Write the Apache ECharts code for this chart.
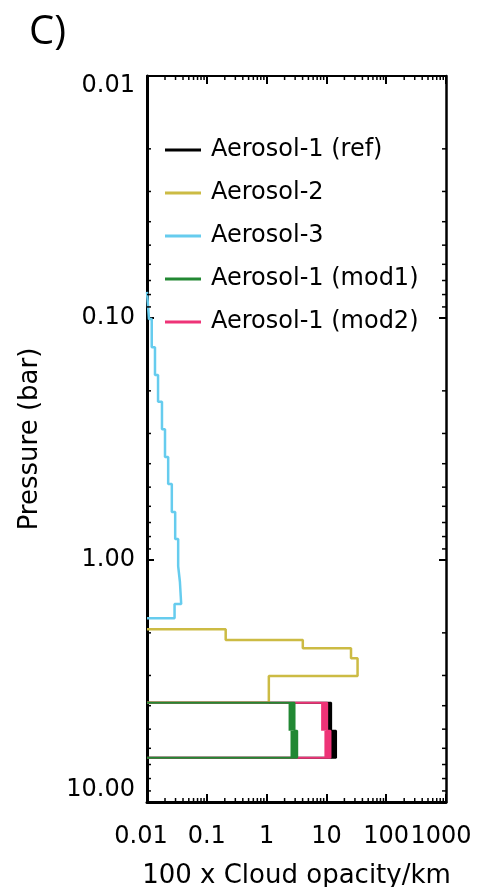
<!DOCTYPE html>
<html><head><meta charset="utf-8">
<script src="https://cdn.jsdelivr.net/npm/echarts@6/dist/echarts.min.js"></script>
<style>html,body{margin:0;padding:0;background:#fff}#c{width:485px;height:887px}</style>
</head><body><div id="c"></div>
<script>
// ---- data ----
const xTickValues = [0.01, 0.1, 1, 10, 100, 1000];
const xTickLabels = ['0.01', '0.1', '1', '10', '100', '1000'];
const yTickValues = [0.01, 0.1, 1, 10];
const yTickLabels = ['0.01', '0.10', '1.00', '10.00'];
const seriesNames = ['Aerosol-1 (ref)', 'Aerosol-2', 'Aerosol-3', 'Aerosol-1 (mod1)', 'Aerosol-1 (mod2)'];
const seriesColors = ['#000000', '#CCBB44', '#66CCEE', '#228833', '#EE3377'];
const baseValue = 0.01;

// Aerosol-3: layer boundaries (bar) and opacity per layer
const aer3Bounds = [0.078, 0.101, 0.132, 0.172, 0.222, 0.288, 0.375, 0.485, 0.634, 0.818, 1.059, 1.23, 1.52, 1.74];
const aer3Values = [0.0108, 0.012, 0.0136, 0.0153, 0.0178, 0.020, 0.0226, 0.026, 0.0296, 0.0332, 0.0355, 0.0373, 0.0289];
// Aerosol-2
const aer2Bounds = [1.934, 2.141, 2.317, 2.548, 3.015, 3.888];
const aer2Values = [0.207, 4.03, 25.8, 33.2, 1.09];
// Aerosol-1 variants (two layers, each with a min-max spread)
const aer1Bounds = [3.888, 5.076, 6.56];
const aer1RefMin = [10.3, 11.7];
const aer1RefMax = [12.0, 14.5];
const aer1Mod1Min = [2.33, 2.51];
const aer1Mod1Max = [2.93, 3.25];
const aer1Mod2Min = [8.16, 9.26];
const aer1Mod2Max = [10.3, 11.7];

// ---- helpers ----
function stepProfile(bounds, values) {
  const pts = [[baseValue, bounds[0]]];
  for (let i = 0; i < values.length; i++) {
    pts.push([values[i], bounds[i]]);
    pts.push([values[i], bounds[i + 1]]);
  }
  pts.push([baseValue, bounds[bounds.length - 1]]);
  return pts;
}
function bandRects(bounds, mins, maxs) {
  return mins.map((m, i) => [m, maxs[i], bounds[i], bounds[i + 1]]);
}
function renderBand(params, api) {
  const a = api.coord([api.value(0), api.value(2)]);
  const b = api.coord([api.value(1), api.value(3)]);
  return {
    type: 'rect',
    shape: { x: Math.min(a[0], b[0]), y: Math.min(a[1], b[1]), width: Math.abs(b[0] - a[0]), height: Math.abs(b[1] - a[1]) },
    style: { fill: api.visual('color') }
  };
}
const minorX = [], minorY = [];
for (let k = 0; k < xTickValues.length - 1; k++) for (let m = 2; m <= 9; m++) minorX.push([xTickValues[k] * m, 1]);
for (let k = 0; k < yTickValues.length - 1; k++) for (let m = 2; m <= 9; m++) minorY.push([1, yTickValues[k] * m]);
function renderMinorX(params, api) {
  const cs = params.coordSys;
  const x = api.coord([api.value(0), 1])[0];
  const b = cs.y + cs.height, t = cs.y;
  return { type: 'group', children: [
    { type: 'line', shape: { x1: x, y1: b, x2: x, y2: b - 4 }, style: { stroke: '#000', lineWidth: 1.5 } },
    { type: 'line', shape: { x1: x, y1: t, x2: x, y2: t + 4 }, style: { stroke: '#000', lineWidth: 1.5 } }
  ] };
}
function renderMinorY(params, api) {
  const cs = params.coordSys;
  const y = api.coord([1, api.value(1)])[1];
  const l = cs.x, r = cs.x + cs.width;
  return { type: 'group', children: [
    { type: 'line', shape: { x1: l, y1: y, x2: l + 4, y2: y }, style: { stroke: '#000', lineWidth: 1.5 } },
    { type: 'line', shape: { x1: r, y1: y, x2: r - 4, y2: y }, style: { stroke: '#000', lineWidth: 1.5 } }
  ] };
}
function nearestIndex(values, v) {
  let best = 0;
  for (let i = 1; i < values.length; i++) if (Math.abs(Math.log10(values[i]) - Math.log10(v)) < Math.abs(Math.log10(values[best]) - Math.log10(v))) best = i;
  return best;
}
const FONT = 'DejaVu Sans';
function xLabel(v) {
  const i = nearestIndex(xTickValues, v);
  if (i === 0) return '{first|' + xTickLabels[i] + '}';
  if (i === xTickValues.length - 1) return '{last|' + xTickLabels[i] + '}';
  return xTickLabels[i];
}
function yLabel(v) {
  const i = nearestIndex(yTickValues, v);
  if (i === 0) return '{top|' + yTickLabels[i] + '}';
  if (i === yTickValues.length - 1) return '{bottom|' + yTickLabels[i] + '}';
  return yTickLabels[i];
}
function lineSeries(idx, data, width, z) {
  return {
    name: seriesNames[idx], type: 'line', data: data, symbol: 'none', showSymbol: false,
    clip: false, z: z, silent: true,
    itemStyle: { color: seriesColors[idx] },
    lineStyle: { color: seriesColors[idx], width: width }
  };
}
function bandSeries(idx, data, z) {
  return {
    name: seriesNames[idx] + ' band', type: 'custom', data: data, renderItem: renderBand,
    encode: { x: [0, 1], y: [2, 3] }, z: z, silent: true, clip: false,
    itemStyle: { color: seriesColors[idx] }
  };
}
const labelBase = { fontFamily: FONT, fontSize: 24, color: '#000' };

const chart = echarts.init(document.getElementById('c'), null, { renderer: 'canvas' });
chart.setOption({
  animation: false,
  backgroundColor: '#ffffff',
  title: { text: 'C)', left: 29, top: 13, padding: 0, textStyle: { fontFamily: 'Open Sans', fontSize: 40, fontWeight: 'normal', color: '#000' } },
  legend: {
    data: seriesNames, orient: 'vertical', left: 165, top: 138, padding: 0,
    icon: 'rect', itemWidth: 36, itemHeight: 3, itemGap: 19,
    textStyle: { fontFamily: FONT, fontSize: 24, lineHeight: 24, color: '#000', padding: [0, 0, 0, 5] }
  },
  grid: { left: 147, right: 39, top: 76, bottom: 85, containLabel: false, outerBoundsMode: 'none' },
  xAxis: [
    {
      type: 'log', logBase: 10, min: 0.01, max: 1000, position: 'bottom',
      name: '100 x Cloud opacity/km', nameLocation: 'middle', nameGap: 61,
      nameTextStyle: { fontFamily: FONT, fontSize: 26, color: '#000' },
      axisLine: { show: true, lineStyle: { color: '#000', width: 3 } },
      axisTick: { show: true, inside: true, length: 8, lineStyle: { color: '#000', width: 2 } },
      axisLabel: Object.assign({ show: true, margin: 23, formatter: xLabel,
        rich: { first: Object.assign({ padding: [0, 12, 0, 0] }, labelBase), last: Object.assign({ padding: [0, 10, 0, 0] }, labelBase) } }, labelBase),
      splitLine: { show: false }
    },
    {
      type: 'log', logBase: 10, min: 0.01, max: 1000, position: 'top',
      axisLine: { show: true, lineStyle: { color: '#000', width: 2 } },
      axisTick: { show: true, inside: true, length: 8, lineStyle: { color: '#000', width: 2 } },
      axisLabel: { show: false }, splitLine: { show: false }
    }
  ],
  yAxis: [
    {
      type: 'log', logBase: 10, min: 0.01, max: 10, inverse: true, position: 'left',
      name: 'Pressure (bar)', nameLocation: 'middle', nameGap: 104, nameRotate: 90,
      nameTextStyle: { fontFamily: FONT, fontSize: 26, color: '#000' },
      axisLine: { show: true, lineStyle: { color: '#000', width: 3 } },
      axisTick: { show: true, inside: true, length: 7, lineStyle: { color: '#000', width: 2 } },
      axisLabel: Object.assign({ show: true, margin: 12, formatter: yLabel,
        rich: { top: Object.assign({ padding: [20, 0, 0, 0] }, labelBase), bottom: Object.assign({ padding: [0, 0, 24, 0] }, labelBase) } }, labelBase),
      splitLine: { show: false }
    },
    {
      type: 'log', logBase: 10, min: 0.01, max: 10, inverse: true, position: 'right',
      axisLine: { show: true, lineStyle: { color: '#000', width: 2.5 } },
      axisTick: { show: true, inside: true, length: 7, lineStyle: { color: '#000', width: 2 } },
      axisLabel: { show: false }, splitLine: { show: false }
    }
  ],
  series: [
    lineSeries(0, stepProfile(aer1Bounds, aer1RefMax), 2, 2),
    bandSeries(0, bandRects(aer1Bounds, aer1RefMin, aer1RefMax), 2),
    lineSeries(1, stepProfile(aer2Bounds, aer2Values), 2.5, 3),
    lineSeries(2, stepProfile(aer3Bounds, aer3Values), 2.5, 3),
    lineSeries(4, stepProfile(aer1Bounds, aer1Mod2Max), 2, 4),
    bandSeries(4, bandRects(aer1Bounds, aer1Mod2Min, aer1Mod2Max), 4),
    lineSeries(3, stepProfile(aer1Bounds, aer1Mod1Max), 2, 5),
    bandSeries(3, bandRects(aer1Bounds, aer1Mod1Min, aer1Mod1Max), 5),
    { name: 'minor x ticks', type: 'custom', data: minorX, renderItem: renderMinorX, encode: { x: 0, y: 1 }, z: 10, silent: true, clip: false },
    { name: 'minor y ticks', type: 'custom', data: minorY, renderItem: renderMinorY, encode: { x: 0, y: 1 }, z: 10, silent: true, clip: false }
  ]
});
</script>
</body></html>
